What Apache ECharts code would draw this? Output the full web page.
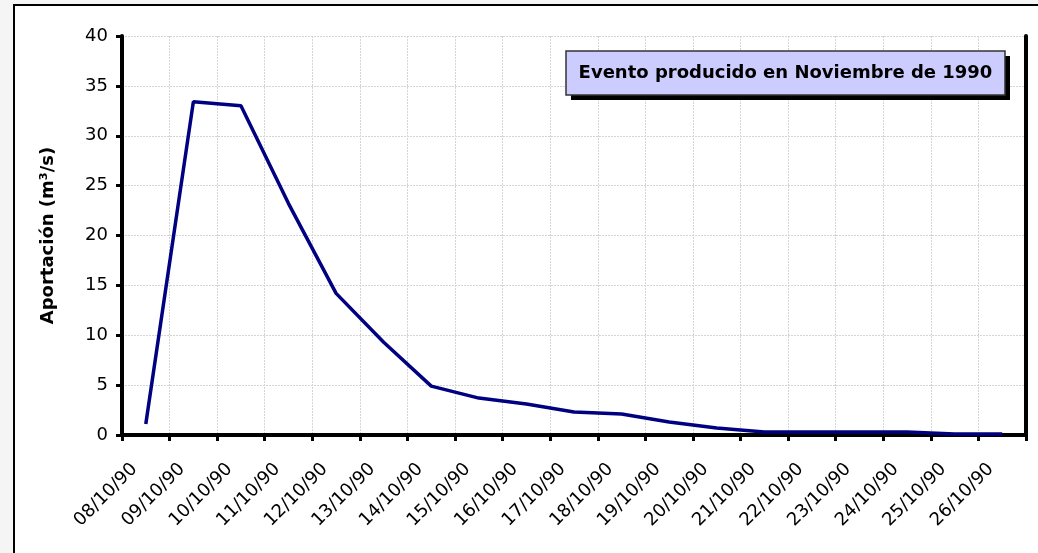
<!DOCTYPE html>
<html>
<head>
<meta charset="utf-8">
<script src="https://cdn.jsdelivr.net/npm/echarts@6/dist/echarts.min.js"></script>
<style>
html,body{margin:0;padding:0;background:#f5f5f5;}
#chart{width:1038px;height:553px;}
</style>
</head>
<body>
<div id="chart"></div>
<script>
const categories = ['08/10/90','09/10/90','10/10/90','11/10/90','12/10/90','13/10/90','14/10/90','15/10/90','16/10/90','17/10/90','18/10/90','19/10/90','20/10/90','21/10/90','22/10/90','23/10/90','24/10/90','25/10/90','26/10/90'];
const aportacion = [1.1, 33.4, 33.0, 23.2, 14.2, 9.3, 4.9, 3.7, 3.1, 2.3, 2.1, 1.3, 0.7, 0.3, 0.3, 0.3, 0.3, 0.1, 0.1];
const yTicks = {min: 0, max: 40, interval: 5};
const yTitle = 'Aportación (m³/s)';
const boxText = 'Evento producido en Noviembre de 1990';

const FONT = '"DejaVu Sans", "Liberation Sans", Arial, sans-serif';
const chart = echarts.init(document.getElementById('chart'), null, {renderer: 'canvas'});
const frameAxis = {show: true, lineStyle: {color: '#000', width: 4}};
chart.setOption({
  backgroundColor: '#f5f5f5',
  animation: false,
  textStyle: {fontFamily: FONT},
  graphic: [
    {type: 'rect', z: -10, silent: true, shape: {x: 14, y: 5, width: 1100, height: 700},
     style: {fill: '#ffffff', stroke: '#000000', lineWidth: 2}},
    {type: 'rect', z: 100, shape: {x: 571, y: 56, width: 439, height: 44},
     style: {fill: '#000000'}},
    {type: 'rect', z: 101, shape: {x: 566, y: 51, width: 439, height: 44},
     style: {fill: '#ccccff', stroke: '#333333', lineWidth: 1.5}},
    {type: 'text', z: 102, x: 785.5, y: 73.5,
     style: {text: boxText, fill: '#000', font: 'bold 18px ' + FONT, align: 'center', verticalAlign: 'middle'}}
  ],
  grid: {left: 122, right: 12, top: 36, bottom: 118, show: true, borderWidth: 0, backgroundColor: '#fff'},
  xAxis: [{
    type: 'category',
    data: categories,
    boundaryGap: true,
    axisLine: frameAxis,
    axisTick: {show: true, alignWithLabel: false, length: 6, lineStyle: {color: '#000', width: 3}},
    axisLabel: {interval: 0, rotate: 45, fontSize: 18, color: '#000', fontFamily: FONT, margin: 20, padding: [0, 16, 0, 0]},
    splitLine: {show: true, interval: 0, lineStyle: {color: '#d4d4d4', width: 1, type: [2, 1]}}
  }, {
    type: 'category',
    data: categories,
    position: 'top',
    axisLine: frameAxis,
    axisTick: {show: false},
    axisLabel: {show: false},
    splitLine: {show: false}
  }],
  yAxis: [{
    type: 'value',
    min: yTicks.min, max: yTicks.max, interval: yTicks.interval,
    name: yTitle,
    nameLocation: 'middle',
    nameGap: 65,
    nameTextStyle: {fontSize: 18, fontWeight: 'bold', color: '#000', fontFamily: FONT},
    axisLine: frameAxis,
    axisTick: {show: true, length: 6, lineStyle: {color: '#000', width: 3}},
    axisLabel: {fontSize: 18, color: '#000', fontFamily: FONT, margin: 14},
    splitLine: {show: true, lineStyle: {color: '#d4d4d4', width: 1, type: [2, 1]}}
  }, {
    type: 'value',
    min: yTicks.min, max: yTicks.max, interval: yTicks.interval,
    position: 'right',
    axisLine: frameAxis,
    axisTick: {show: false},
    axisLabel: {show: false},
    splitLine: {show: false}
  }],
  series: [{
    type: 'line',
    data: aportacion,
    symbol: 'none',
    lineStyle: {color: '#000080', width: 3.5},
    itemStyle: {color: '#000080'}
  }]
});
</script>
</body>
</html>
